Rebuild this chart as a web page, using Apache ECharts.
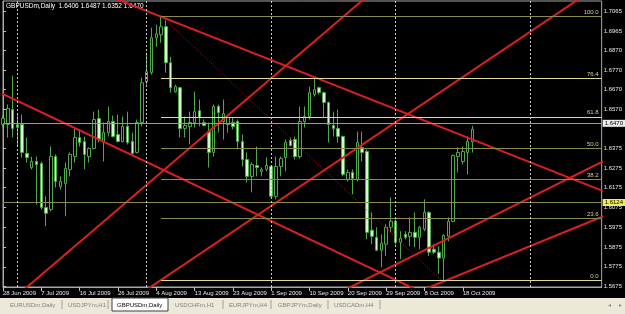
<!DOCTYPE html>
<html>
<head>
<meta charset="utf-8">
<script src="https://cdn.jsdelivr.net/npm/echarts@6.0.0/dist/echarts.min.js"></script>
<style>
html, body { margin: 0; padding: 0; background: #000; }
#chart { width: 625px; height: 314px; }
</style>
</head>
<body>
<div id="chart"></div>
<script>
// daily bars (broker has Sunday bars)
const dates = [
  '28 Jun 2009','29 Jun 2009','30 Jun 2009','1 Jul 2009','2 Jul 2009','3 Jul 2009','5 Jul 2009','6 Jul 2009',
  '7 Jul 2009','8 Jul 2009','9 Jul 2009','10 Jul 2009','12 Jul 2009','13 Jul 2009','14 Jul 2009','15 Jul 2009',
  '16 Jul 2009','17 Jul 2009','19 Jul 2009','20 Jul 2009','21 Jul 2009','22 Jul 2009','23 Jul 2009','24 Jul 2009',
  '26 Jul 2009','27 Jul 2009','28 Jul 2009','29 Jul 2009','30 Jul 2009','31 Jul 2009','2 Aug 2009','3 Aug 2009',
  '4 Aug 2009','5 Aug 2009','6 Aug 2009','7 Aug 2009','9 Aug 2009','10 Aug 2009','11 Aug 2009','12 Aug 2009',
  '13 Aug 2009','14 Aug 2009','16 Aug 2009','17 Aug 2009','18 Aug 2009','19 Aug 2009','20 Aug 2009','21 Aug 2009',
  '23 Aug 2009','24 Aug 2009','25 Aug 2009','26 Aug 2009','27 Aug 2009','28 Aug 2009','30 Aug 2009','31 Aug 2009',
  '1 Sep 2009','2 Sep 2009','3 Sep 2009','4 Sep 2009','6 Sep 2009','7 Sep 2009','8 Sep 2009','9 Sep 2009',
  '10 Sep 2009','11 Sep 2009','13 Sep 2009','14 Sep 2009','15 Sep 2009','16 Sep 2009','17 Sep 2009','18 Sep 2009',
  '20 Sep 2009','21 Sep 2009','22 Sep 2009','23 Sep 2009','24 Sep 2009','25 Sep 2009','27 Sep 2009','28 Sep 2009',
  '29 Sep 2009','30 Sep 2009','1 Oct 2009','2 Oct 2009','4 Oct 2009','5 Oct 2009','6 Oct 2009','7 Oct 2009',
  '8 Oct 2009','9 Oct 2009','11 Oct 2009','12 Oct 2009','13 Oct 2009','14 Oct 2009','15 Oct 2009','16 Oct 2009',
  '18 Oct 2009','19 Oct 2009','20 Oct 2009'
];

const opens = [
  1.6494,1.6494,1.6569,1.6479,1.6494,1.6348,1.6277,1.6307,1.6297,1.6075,1.6065,1.6332,1.6181,1.6196,1.6267,1.6332,
  1.6428,1.6408,1.6332,1.6373,1.6524,1.6408,1.6453,1.6509,1.6443,1.6408,1.6484,1.6408,1.6353,1.6504,1.6710,1.6756,
  1.6932,1.6947,1.6988,1.6806,1.6660,1.6680,1.6474,1.6484,1.6504,1.6564,1.6504,1.6458,1.6353,1.6585,1.6509,1.6494,
  1.6504,1.6509,1.6408,1.6317,1.6232,1.6287,1.6257,1.6267,1.6282,1.6131,1.6282,1.6327,1.6413,1.6418,1.6332,1.6509,
  1.6534,1.6645,1.6680,1.6655,1.6605,1.6489,1.6474,1.6433,1.6217,1.6252,1.6217,1.6378,1.6358,1.5960,1.5924,1.5859,
  1.5889,1.5975,1.6005,1.5899,1.5939,1.5929,1.5949,1.5924,1.5965,1.6050,1.5864,1.5849,1.5819,1.5929,1.6005,1.6332,
  1.6307,1.6353,1.6406
];
const closes = [
  1.6524,1.6575,1.6474,1.6494,1.6353,1.6327,1.6307,1.6292,1.6075,1.6045,1.6332,1.6206,1.6206,1.6272,1.6343,1.6428,
  1.6403,1.6343,1.6373,1.6519,1.6418,1.6453,1.6509,1.6433,1.6408,1.6484,1.6403,1.6348,1.6504,1.6705,1.6761,1.6932,
  1.6952,1.6988,1.6806,1.6680,1.6685,1.6474,1.6489,1.6504,1.6559,1.6529,1.6489,1.6353,1.6585,1.6554,1.6549,1.6529,
  1.6484,1.6408,1.6317,1.6232,1.6292,1.6277,1.6267,1.6287,1.6131,1.6282,1.6322,1.6403,1.6388,1.6332,1.6509,1.6534,
  1.6655,1.6670,1.6655,1.6605,1.6494,1.6474,1.6433,1.6242,1.6252,1.6222,1.6403,1.6353,1.5949,1.5929,1.5859,1.5894,
  1.5975,1.6005,1.5899,1.5919,1.5924,1.5949,1.5924,1.5975,1.6050,1.5849,1.5849,1.5819,1.5934,1.6005,1.6337,1.6353,
  1.6358,1.6408,1.6470
];
const lows = [
  1.6479,1.6428,1.6428,1.6383,1.6327,1.6302,1.6267,1.6090,1.6065,1.5980,1.6055,1.6176,1.6166,1.6030,1.6232,1.6302,
  1.6383,1.6267,1.6302,1.6368,1.6403,1.6307,1.6433,1.6428,1.6403,1.6403,1.6393,1.6343,1.6348,1.6484,1.6695,1.6746,
  1.6887,1.6907,1.6756,1.6655,1.6655,1.6428,1.6428,1.6393,1.6479,1.6484,1.6484,1.6277,1.6332,1.6453,1.6418,1.6453,
  1.6469,1.6368,1.6282,1.6201,1.6151,1.6232,1.6232,1.6257,1.6126,1.6116,1.6232,1.6257,1.6383,1.6317,1.6322,1.6479,
  1.6519,1.6635,1.6645,1.6529,1.6403,1.6433,1.6403,1.6232,1.6206,1.6141,1.6206,1.6307,1.5914,1.5889,1.5854,1.5773,
  1.5829,1.5949,1.5889,1.5814,1.5914,1.5879,1.5874,1.5864,1.5955,1.5829,1.5839,1.5738,1.5707,1.5904,1.6000,1.6252,
  1.6292,1.6242,1.6352
];
const highs = [
  1.6539,1.6595,1.6741,1.6544,1.6544,1.6428,1.6332,1.6332,1.6307,1.6131,1.6383,1.6343,1.6232,1.6302,1.6353,1.6474,
  1.6469,1.6433,1.6378,1.6559,1.6569,1.6504,1.6585,1.6539,1.6544,1.6534,1.6559,1.6453,1.6519,1.6731,1.6857,1.6983,
  1.6998,1.7043,1.7023,1.6836,1.6695,1.6685,1.6534,1.6559,1.6660,1.6620,1.6519,1.6504,1.6595,1.6595,1.6620,1.6534,
  1.6529,1.6519,1.6443,1.6353,1.6302,1.6383,1.6277,1.6327,1.6287,1.6332,1.6332,1.6418,1.6428,1.6433,1.6585,1.6585,
  1.6685,1.6731,1.6685,1.6660,1.6610,1.6559,1.6569,1.6438,1.6267,1.6267,1.6458,1.6458,1.6368,1.6050,1.5975,1.5939,
  1.5990,1.6126,1.6015,1.5955,1.5955,1.6025,1.6050,1.5980,1.6116,1.6055,1.5889,1.5879,1.5939,1.6025,1.6343,1.6378,
  1.6383,1.6433,1.6487
];

// empty bars to the right (chart shift)
const futureSlots = 27;

// right axis labels
const priceTicks = [1.7065, 1.6965, 1.6870, 1.6770, 1.6670, 1.6570, 1.6375, 1.6275, 1.6175,
  1.6075, 1.5975, 1.5875, 1.5775, 1.5675];

// red trendlines, [barIndex, price] pairs
const trendLines = [
  [[-5, 1.6705], [90, 1.5617]],
  [[20, 1.7163], [126, 1.6151]],
  [[0, 1.5569], [80, 1.7224]],
  [[20, 1.5497], [130, 1.7287]],
  [[60, 1.5522], [130, 1.6364]],
  [[85, 1.5632], [130, 1.6076]]
];
// fibo anchor: high bar -> low bar
const fibAnchor = [[33, 1.7043], [91.5, 1.5707]];
const fibLabels = ['0.0', '23.6', '38.2', '50.0', '61.8', '76.4', '100.0'];
const fibPrices = [1.5707, 1.6022, 1.6217, 1.6375, 1.6533, 1.6728, 1.7043];
const fibStart = 33;

const bidPrice = 1.6470;
const hLinePrice = 1.6124;
// month separators (bar index)
const separators = [3, 30, 56, 82, 110];

const tabs = ['EURUSDm,Daily', 'USDJPYm,H1', 'GBPUSDm,Daily', 'USDCHFm,H1', 'EURJPYm,H4', 'GBPJPYm,Daily', 'USDCADm,H4'];
const tabX = [10, 68, 117, 175, 229, 278, 334];
const tabSep = [62, 108, 223, 271, 328, 380];

const font = '"Liberation Sans", Arial, sans-serif';
const candles = dates.map((d, i) => [opens[i], closes[i], lows[i], highs[i]]);
const categories = dates.concat(new Array(futureSlots).fill(''));
const lastIdx = categories.length - 1;
const showLabel = (i) => i % 8 === 0 && i < dates.length;

const fibLight = ['61.8', '76.4', '0.0'];

const chart = echarts.init(document.getElementById('chart'));

const series = [
  {
    type: 'candlestick',
    xAxisIndex: 0,
    data: candles,
    barWidth: 3,
    clip: false,
    itemStyle: {
      color: '#000000',
      color0: '#d4f7cc',
      borderColor: '#4fa84a',
      borderColor0: '#4fa84a',
      borderWidth: 1
    },
    markLine: {
      silent: true,
      symbol: 'none',
      animation: false,
      data: [
        {
          yAxis: bidPrice,
          lineStyle: { color: '#9a9a9a', width: 1, type: 'solid' },
          label: { formatter: bidPrice.toFixed(4), backgroundColor: '#ececec', color: '#000' }
        },
        {
          yAxis: hLinePrice,
          lineStyle: { color: '#8a8a4c', width: 1, type: 'solid' },
          label: { formatter: hLinePrice.toFixed(4), backgroundColor: '#eeee55', color: '#000' }
        }
      ],
      label: {
        position: 'end',
        distance: 1,
        padding: [1, 2, 0, 2],
        fontSize: 6,
        fontFamily: font
      }
    }
  },
  {
    type: 'line',
    xAxisIndex: 1,
    data: fibAnchor,
    symbol: 'none',
    silent: true,
    lineStyle: { color: '#c01a1a', width: 1, type: [1, 2] },
    markLine: {
      silent: true,
      symbol: 'none',
      animation: false,
      data: fibPrices.map((p, k) => [
        {
          coord: [fibStart, p],
          lineStyle: { color: fibLight.includes(fibLabels[k]) ? '#dcdc98' : '#8a8a4c', width: 1, type: 'solid' },
          label: { formatter: fibLabels[k] }
        },
        { coord: [lastIdx, p] }
      ]),
      label: {
        position: 'insideEndTop',
        distance: [3, 1],
        color: '#d6d68a',
        fontSize: 6,
        fontFamily: font
      }
    }
  },
  {
    type: 'line',
    xAxisIndex: 1,
    data: [],
    markLine: {
      silent: true,
      symbol: 'none',
      animation: false,
      label: { show: false },
      lineStyle: { color: '#c8c8c8', width: 1, type: [2, 2] },
      data: separators.map(s => ({ xAxis: s }))
    }
  }
];

trendLines.forEach(tl => {
  series.push({
    type: 'line',
    xAxisIndex: 1,
    data: tl,
    symbol: 'none',
    silent: true,
    lineStyle: { color: '#dc2020', width: 2 }
  });
});

const graphic = [
  {
    type: 'text',
    left: 6,
    top: 3,
    style: { text: 'GBPUSDm,Daily  1.6406 1.6487 1.6352 1.6470', fill: '#ffffff', font: '6.5px ' + font }
  },
  { type: 'rect', shape: { x: 0, y: 298, width: 625, height: 16 }, style: { fill: '#ece9d8' } },
  { type: 'rect', shape: { x: 112, y: 298, width: 56, height: 13 }, style: { fill: '#ffffff', stroke: '#404040', lineWidth: 1 } }
];
tabs.forEach((t, k) => {
  graphic.push({
    type: 'text', x: tabX[k], y: 302,
    style: { text: t, fill: k === 2 ? '#000' : '#808080', font: '6px ' + font }
  });
});
tabSep.forEach(x => {
  graphic.push({ type: 'line', shape: { x1: x, y1: 300, x2: x, y2: 309 }, style: { stroke: '#a0a0a0', lineWidth: 1 } });
});
graphic.push({ type: 'text', x: 608, y: 302, style: { text: '◂', fill: '#909090', font: '6px ' + font } });
graphic.push({ type: 'text', x: 619, y: 302, style: { text: '▸', fill: '#909090', font: '6px ' + font } });

const option = {
  animation: false,
  backgroundColor: '#000000',
  grid: {
    left: 3, right: 22, top: 1, bottom: 27,
    show: true, borderColor: '#a8a8a8', borderWidth: 1
  },
  xAxis: [
    {
      type: 'category',
      data: categories,
      boundaryGap: false,
      axisLine: { lineStyle: { color: '#a8a8a8' } },
      axisTick: { show: true, interval: showLabel, length: 4, lineStyle: { color: '#c0c0c0' } },
      axisLabel: {
        interval: showLabel,
        align: 'left',
        margin: 3,
        color: '#e8e8e8',
        fontSize: 6,
        fontFamily: font
      },
      splitLine: { show: false }
    },
    { type: 'value', min: 0, max: lastIdx, show: false }
  ],
  yAxis: {
    type: 'value',
    position: 'right',
    min: 1.5673,
    max: 1.7118,
    axisLine: { show: true, lineStyle: { color: '#a8a8a8' } },
    axisTick: { show: true, customValues: priceTicks, length: 3, lineStyle: { color: '#c0c0c0' } },
    axisLabel: {
      customValues: priceTicks,
      formatter: v => v.toFixed(4),
      margin: 2,
      color: '#e8e8e8',
      fontSize: 6,
      fontFamily: font
    },
    splitLine: { show: false }
  },
  graphic: graphic,
  series: series
};

chart.setOption(option);
</script>
</body>
</html>
